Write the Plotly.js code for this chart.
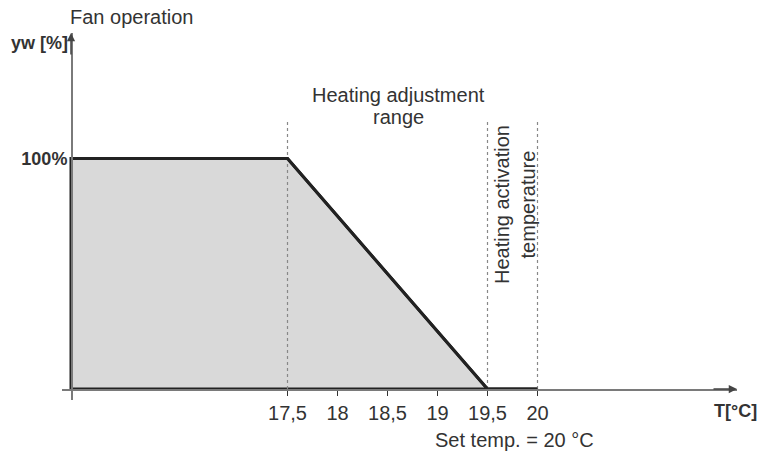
<!DOCTYPE html>
<html>
<head>
<meta charset="utf-8">
<script src="https://cdn.plot.ly/plotly-3.0.1.min.js"></script>
<style>html,body{margin:0;padding:0;background:#fff;}#chart{width:772px;height:455px;}</style>
</head>
<body>
<div id="chart"></div>
<script>
// ---- data ----
const curveT = [15.335, 15.335, 17.5, 19.5, 20, 15.335];
const curveYW = [0, 100, 100, 0, 0, 0];
const guideT = [17.5, 19.5, 20];
const guideTop = 116;
const tickVals = [17.5, 18, 18.5, 19, 19.5, 20];
const tickText = ["17,5", "18", "18,5", "19", "19,5", "20"];
const yTickVals = [100];
const yTickText = ["100%"];

// ---- layout geometry ----
const W = 772, H = 455;
const M = {l: 62, r: 35, t: 33, b: 55};
const xRange = [15.245, 21.995];
const yRange = [-4.77, 154.45];
const pw = W - M.l - M.r, ph = H - M.t - M.b;
const pxX = p => (p - M.l) / pw;
const pxY = p => (H - M.b - p) / ph;
const xPos = (curveT[0] - xRange[0]) / (xRange[1] - xRange[0]);
const yPos = (0 - yRange[0]) / (yRange[1] - yRange[0]);

const FONT = '"Liberation Sans", Arial, sans-serif';
const TXT = '#333';
const AX = '#7a7a7a';

const traces = [
  {
    x: curveT, y: curveYW, type: 'scatter', mode: 'lines',
    fill: 'toself', fillcolor: '#d9d9d9',
    line: {color: '#222', width: 3}, hoverinfo: 'skip'
  }
];
guideT.forEach(t => traces.push({
  x: [t, t], y: [0, guideTop], type: 'scatter', mode: 'lines',
  line: {color: '#888', width: 1.2, dash: 'dot'}, hoverinfo: 'skip'
}));
// redraw the upper outline on top of the guides
traces.push({x: curveT.slice(1, 5), y: curveYW.slice(1, 5), type: 'scatter', mode: 'lines',
  line: {color: '#222', width: 3}, hoverinfo: 'skip'});

const ann = (text, x, y, opts) => Object.assign({
  text, x, y, xref: 'paper', yref: 'paper', showarrow: false,
  font: {family: FONT, size: 20, color: TXT}
}, opts || {});

const layout = {
  width: W, height: H,
  margin: M,
  paper_bgcolor: '#fff', plot_bgcolor: '#fff',
  showlegend: false,
  xaxis: {
    range: xRange, anchor: 'free', position: yPos,
    showgrid: false, zeroline: false,
    showline: true, linecolor: AX, linewidth: 1.5,
    tickmode: 'array', tickvals: tickVals, ticktext: tickText,
    ticks: 'outside', ticklen: 5, tickcolor: '#333', tickwidth: 1.5,
    tickfont: {family: FONT, size: 20, color: TXT}
  },
  yaxis: {
    range: yRange, anchor: 'free', position: xPos,
    showgrid: false, zeroline: false,
    showline: true, linecolor: AX, linewidth: 1.5,
    tickmode: 'array', tickvals: yTickVals, ticktext: yTickText.map(s => '<b>' + s + '</b>'),
    ticks: '', ticklabelstandoff: 0,
    tickfont: {family: FONT, size: 18, color: TXT}
  },
  annotations: [
    ann('Fan operation', pxX(68), pxY(17), {xanchor: 'left', yanchor: 'middle'}),
    ann('<b>yw [%]</b>', pxX(70), pxY(43), {xanchor: 'right', yanchor: 'middle', font: {family: FONT, size: 18, color: TXT}}),
    ann('<b>T[°C]</b>', pxX(712), pxY(411), {xanchor: 'left', yanchor: 'middle', font: {family: FONT, size: 18, color: TXT}}),
    ann('Set temp. = 20 °C', pxX(514), pxY(440), {xanchor: 'center', yanchor: 'middle'}),
    ann('Heating adjustment', pxX(398), pxY(95), {xanchor: 'center', yanchor: 'middle'}),
    ann('range', pxX(398), pxY(117), {xanchor: 'center', yanchor: 'middle'}),
    ann('Heating activation<br>temperature', pxX(515), pxY(205), {xanchor: 'center', yanchor: 'middle', textangle: -90}),
    {x: xRange[1], y: 0, ax: xRange[1] - 0.25, ay: 0, xref: 'x', yref: 'y', axref: 'x', ayref: 'y',
     text: '', showarrow: true, arrowhead: 2, arrowsize: 1.1, arrowwidth: 1.5, arrowcolor: '#444'},
    {x: curveT[0], y: yRange[1], ax: curveT[0], ay: yRange[1] - 10, xref: 'x', yref: 'y', axref: 'x', ayref: 'y',
     text: '', showarrow: true, arrowhead: 2, arrowsize: 1.1, arrowwidth: 1.5, arrowcolor: '#444'}
  ]
};

Plotly.newPlot('chart', traces, layout, {staticPlot: true, displayModeBar: false});
</script>
</body>
</html>
